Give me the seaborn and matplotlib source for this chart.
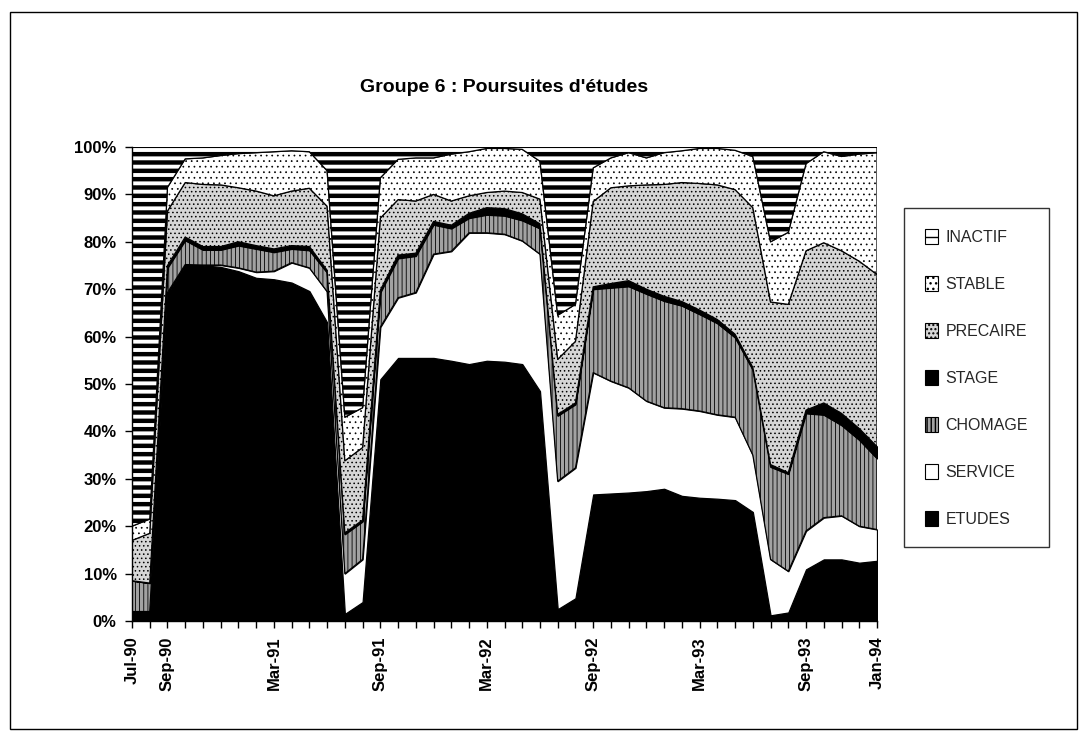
import numpy as np
import pandas as pd
import matplotlib
matplotlib.use("Agg")
import matplotlib.pyplot as plt
from matplotlib.patches import Patch, Rectangle
from matplotlib.ticker import PercentFormatter
import seaborn as sns

# Monthly shares (%) for group 6, July 1990 to January 1994
months = pd.date_range("1990-07-01", "1994-01-01", freq="MS")
shown_labels = ["Jul-90", "Sep-90", "Mar-91", "Sep-91", "Mar-92",
                "Sep-92", "Mar-93", "Sep-93", "Jan-94"]

etudes = [2, 2, 69, 75, 75, 74.7, 73.8, 72.4, 72.1, 71.4, 69.6, 63, 1.5, 4,
          51, 55.5, 55.5, 55.5, 54.9, 54.2, 54.9, 54.7, 54.2, 48.5, 2.5, 4.8,
          26.7, 26.9, 27.1, 27.4, 27.9, 26.4, 26, 25.8, 25.5, 23, 1.2, 1.8,
          10.9, 13, 13, 12.3, 12.7]
service = [0, 0, 0.3, 0.2, 0.1, 0.4, 0.7, 1.2, 1.7, 4.2, 4.9, 6.5, 8.5, 9,
           11, 12.7, 13.8, 21.9, 23.1, 27.7, 27, 26.9, 26, 28.9, 27, 27.5,
           25.7, 23.7, 22.1, 19, 17.1, 18.4, 18.3, 17.7, 17.5, 12, 11.8, 8.7,
           8.1, 8.8, 9.2, 7.7, 6.6]
chomage = [6.5, 6, 5.2, 5.1, 3.2, 3.2, 4.7, 4.9, 4, 2.9, 3.7, 4, 8.3, 8,
           7.3, 8.3, 7.7, 6.2, 4.8, 3.1, 3.8, 3.9, 4.3, 5.4, 13.8, 13.4,
           17.6, 19.7, 21.4, 22.6, 22.5, 21.7, 20.4, 19.3, 16.8, 18, 19.5,
           20.5, 24.8, 21.7, 19.1, 18.2, 15]
stage = [0, 0, 0.5, 0.7, 0.7, 0.7, 0.8, 0.7, 0.7, 0.7, 0.8, 0.5, 0.3, 0.3,
         0.5, 0.7, 0.6, 0.7, 0.7, 1, 1.5, 1.5, 1.4, 1, 0.3, 0.3,
         0.5, 0.9, 1.2, 1, 1, 0.9, 0.9, 0.8, 0.7, 0.5, 0.5, 0.3,
         0.7, 2.5, 2.5, 2.4, 2.5]
precaire = [8.5, 10.5, 11.5, 11.5, 13.1, 13, 11.4, 11.5, 11.2, 11.5, 12.3,
            13.5, 15.2, 15.3, 15.2, 11.7, 11, 5.7, 5.1, 3.7, 3.2, 3.7, 4.5,
            5.2, 11.6, 13, 18, 20.2, 20, 22, 23.6, 25.1, 26.7, 28.4, 30.5,
            33.7, 34.3, 35.5, 33.6, 33.8, 34.3, 35.3, 36.3]
stable = [3, 3, 5, 5, 5.6, 6.2, 7.2, 8.1, 9.3, 8.5, 7.7, 7.5, 9.2, 8.4,
          8.5, 8.5, 9.1, 7.7, 9.9, 9.3, 9.3, 9, 9.1, 8, 9.3, 7.8,
          7.1, 6.3, 7, 5.7, 6.7, 6.7, 7.4, 7.7, 8.3, 10.8, 12.7, 15.2,
          18.4, 19.2, 19.9, 22.6, 25.7]
inactif = [80, 78.5, 8.5, 2.5, 2.3, 1.8, 1.4, 1.2, 1, 0.8, 1, 5, 57, 55,
           6.5, 2.6, 2.3, 2.3, 1.5, 1, 0.3, 0.3, 0.5, 3, 35.5, 33.2,
           4.4, 2.3, 1.2, 2.3, 1.2, 0.8, 0.3, 0.3, 0.7, 2, 20, 18,
           3.5, 1, 2, 1.5, 1.2]

status = ["ETUDES", "SERVICE", "CHOMAGE", "STAGE", "PRECAIRE", "STABLE", "INACTIF"]
df = pd.DataFrame({"ETUDES": etudes, "SERVICE": service, "CHOMAGE": chomage,
                   "STAGE": stage, "PRECAIRE": precaire, "STABLE": stable,
                   "INACTIF": inactif}, index=months)
shares = df.div(df.sum(axis=1), axis=0)

# black-and-white fill styles: (face colour, hatch, hatch line width)
styles = {
    "ETUDES": ("black", None, 1.0),
    "SERVICE": ("white", None, 1.0),
    "CHOMAGE": ("#a2a2a2", "||||", 0.6),
    "STAGE": ("black", None, 1.0),
    "PRECAIRE": ("#d6d6d6", "....", 0.6),
    "STABLE": ("white", "...", 0.5),
    "INACTIF": ("white", "--", 3.2),
}

sns.set_theme(style="white")
plt.rcParams["font.family"] = ["Liberation Sans", "DejaVu Sans"]

fig = plt.figure(figsize=(10.87, 7.37), dpi=100)
ax = fig.add_axes([132 / 1087, 1 - 621 / 737, 745 / 1087, 474 / 737])

x = np.arange(len(shares))
base = np.zeros(len(shares))
for name in status:
    face, hatch, hlw = styles[name]
    top = base + shares[name].to_numpy()
    with plt.rc_context({"hatch.linewidth": hlw, "hatch.color": "black"}):
        coll = ax.fill_between(x, base, top, facecolor=face, edgecolor="black",
                               hatch=hatch, linewidth=0.9, zorder=2)
        if hasattr(coll, "set_hatch_linewidth"):
            coll.set_hatch_linewidth(hlw)
    base = top

ax.set_xlim(0, len(shares) - 1)
ax.set_ylim(0, 1)
ax.set_yticks(np.arange(0, 1.01, 0.1))
ax.yaxis.set_major_formatter(PercentFormatter(1.0, decimals=0))

labels = [m.strftime("%b-%y") for m in months]
ax.set_xticks(x)
ax.set_xticklabels([lab if lab in shown_labels else "" for lab in labels],
                   rotation=90, fontsize=12, fontweight="bold",
                   va="top", ha="center")
for t in ax.get_yticklabels():
    t.set_fontsize(12)
    t.set_fontweight("bold")

ax.tick_params(axis="both", which="major", direction="out", length=5, width=1,
               color="black", bottom=True, left=True, labelcolor="black")
ax.tick_params(axis="x", pad=6)
ax.tick_params(axis="y", pad=6)
for side in ["top", "right"]:
    ax.spines[side].set_visible(False)
for side in ["left", "bottom"]:
    ax.spines[side].set_color("black")
    ax.spines[side].set_linewidth(1)
ax.grid(False)

fig.text((132 + 877) / 2 / 1087, 1 - 87 / 737, "Groupe 6 : Poursuites d'études",
         ha="center", va="center", fontsize=14, fontweight="bold", color="black")

handles = []
for name in status[::-1]:
    face, hatch, hlw = styles[name]
    with plt.rc_context({"hatch.linewidth": min(hlw, 1.5)}):
        p = Patch(facecolor=face, edgecolor="black", hatch=hatch, linewidth=0.8)
    handles.append(p)
leg = fig.legend(handles=handles, labels=status[::-1], loc="upper left",
                 bbox_to_anchor=(904 / 1087, 1 - 208 / 737), frameon=True,
                 fancybox=False, edgecolor="black", fontsize=11.5,
                 handlelength=0.85, handleheight=1.05, handletextpad=0.45,
                 labelspacing=1.95, borderpad=1.3, borderaxespad=0)
leg.get_frame().set_linewidth(1)

fig.patches.append(Rectangle((10 / 1087, 1 - 729 / 737), 1067 / 1087, 717 / 737,
                             transform=fig.transFigure, fill=False,
                             edgecolor="black", linewidth=1))

fig.savefig("out.png", dpi=100, facecolor="white")
